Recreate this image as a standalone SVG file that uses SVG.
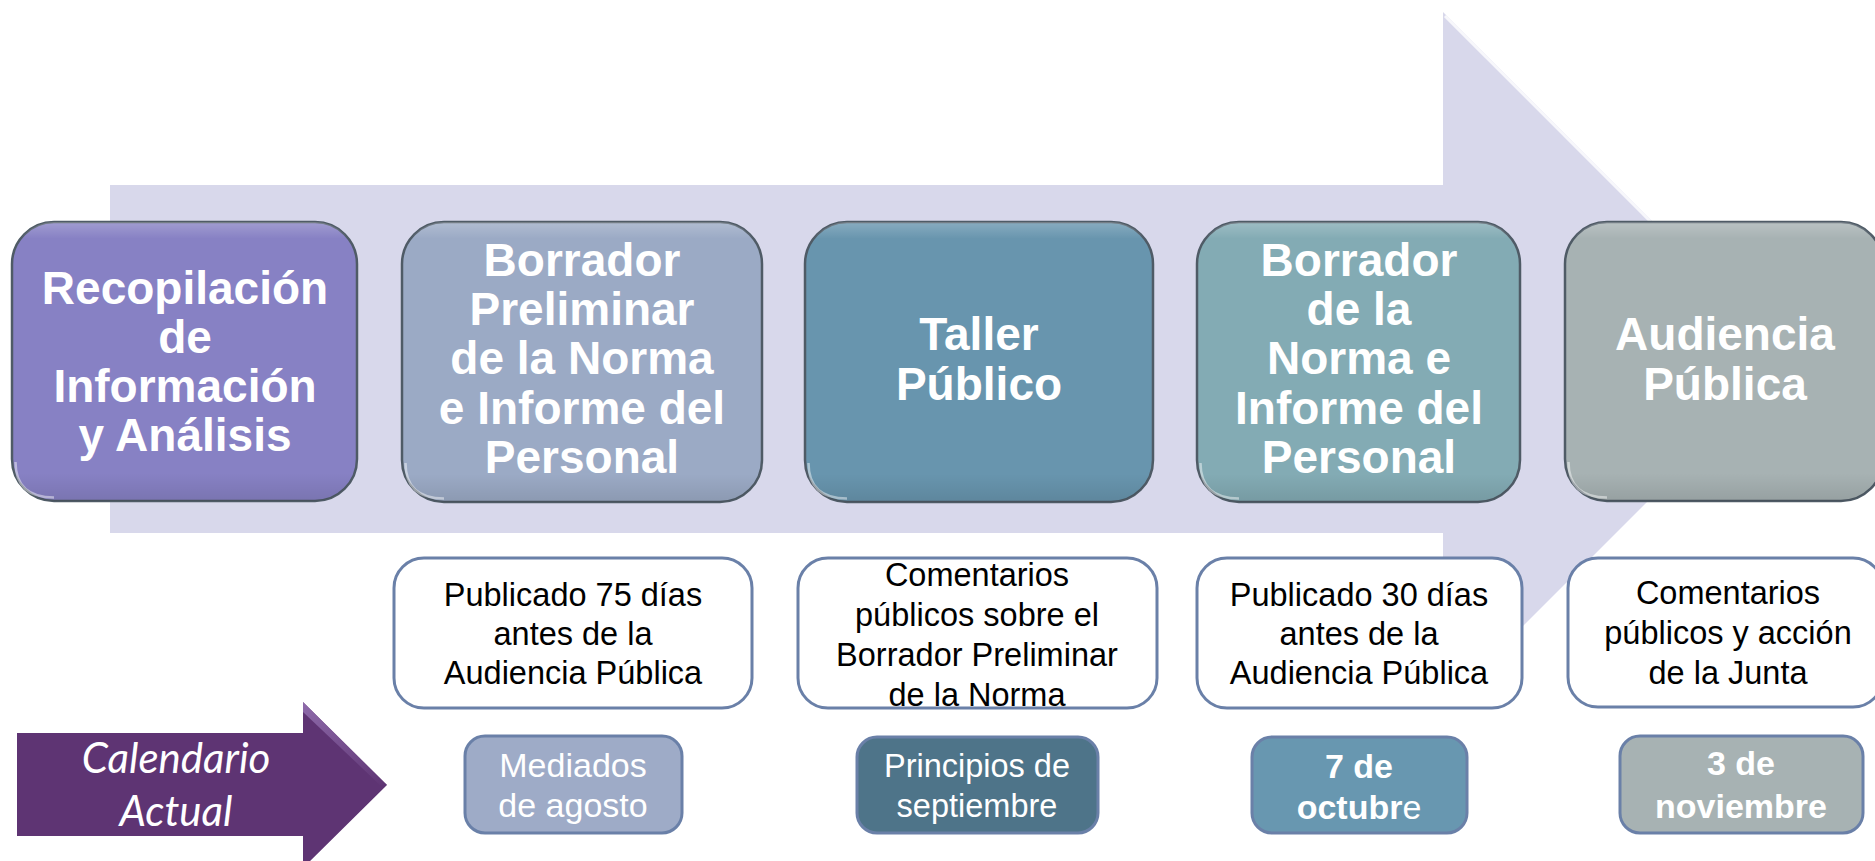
<svg xmlns="http://www.w3.org/2000/svg" width="1875" height="861" viewBox="0 0 1875 861">
<defs>
<style>
.node{stroke:#4f5b66;stroke-width:2.5}
.gloss{fill:url(#gloss);stroke:none}
.edge{fill:none;stroke:#ffffff;stroke-opacity:0.45;stroke-width:2.5}
.nt{font-family:"Liberation Sans",Arial,sans-serif;font-weight:bold;font-size:46px;fill:#ffffff;text-anchor:middle}
.box{fill:#ffffff;stroke:#6a80a8;stroke-width:3}
.bt{font-family:"Liberation Sans",Arial,sans-serif;font-size:32.5px;fill:#000000;text-anchor:middle}
.date{stroke:#6a80a8;stroke-width:3}
.dt{font-family:"Liberation Sans",Arial,sans-serif;font-size:34px;fill:#ffffff;text-anchor:middle}
.dtb{font-family:"Liberation Sans",Arial,sans-serif;font-size:34px;font-weight:bold;fill:#ffffff;text-anchor:middle}
.cal{font-family:Lato,"Open Sans",sans-serif;font-style:italic;font-size:42px;fill:#ffffff;text-anchor:middle}
</style>
<linearGradient id="gloss" x1="0" y1="0" x2="0" y2="1">
<stop offset="0" stop-color="#ffffff" stop-opacity="0.22"/>
<stop offset="0.06" stop-color="#ffffff" stop-opacity="0"/>
<stop offset="0.9" stop-color="#000000" stop-opacity="0"/>
<stop offset="1" stop-color="#000000" stop-opacity="0.1"/>
</linearGradient>
<linearGradient id="calhi" x1="0" y1="0" x2="1" y2="1">
<stop offset="0" stop-color="#9a78b8"/>
<stop offset="1" stop-color="#5e3473"/>
</linearGradient>
</defs>
<rect width="1875" height="861" fill="#ffffff"/>

<g id="backdrop-arrow">
<polygon points="110,185 1443,185 1443,12 1790,359 1443,706 1443,533 110,533" fill="#d8d8eb"/>
<line x1="1445" y1="16" x2="1700" y2="271" stroke="#ffffff" stroke-opacity="0.8" stroke-width="3"/>
</g>

<g id="connectors"></g>

<g id="node-recopilacion">
<rect class="node" x="12" y="222" width="345" height="279" rx="42" fill="#8781c4"/>
<rect class="gloss" x="12" y="222" width="345" height="279" rx="42"/>
<path class="edge" d="M15.5,462 Q15.5,497.5 54,497.5"/>
<text class="nt" x="185" y="304">Recopilación</text>
<text class="nt" x="185" y="353">de</text>
<text class="nt" x="185" y="402">Información</text>
<text class="nt" x="185" y="451">y Análisis</text>
</g>

<g id="node-borrador-preliminar">
<rect class="node" x="402" y="222" width="360" height="280" rx="42" fill="#9baac5"/>
<rect class="gloss" x="402" y="222" width="360" height="280" rx="42"/>
<path class="edge" d="M405.5,463 Q405.5,498.5 444,498.5"/>
<text class="nt" x="582" y="276">Borrador</text>
<text class="nt" x="582" y="325">Preliminar</text>
<text class="nt" x="582" y="374">de la Norma</text>
<text class="nt" x="582" y="424">e Informe del</text>
<text class="nt" x="582" y="473">Personal</text>
</g>

<g id="node-taller">
<rect class="node" x="805" y="222" width="348" height="280" rx="42" fill="#6895ae"/>
<rect class="gloss" x="805" y="222" width="348" height="280" rx="42"/>
<path class="edge" d="M808.5,463 Q808.5,498.5 847,498.5"/>
<text class="nt" x="979" y="350">Taller</text>
<text class="nt" x="979" y="400">Público</text>
</g>

<g id="node-borrador-norma">
<rect class="node" x="1197" y="222" width="323" height="280" rx="42" fill="#83abb4"/>
<rect class="gloss" x="1197" y="222" width="323" height="280" rx="42"/>
<path class="edge" d="M1200.5,463 Q1200.5,498.5 1239,498.5"/>
<text class="nt" x="1359" y="276">Borrador</text>
<text class="nt" x="1359" y="325">de la</text>
<text class="nt" x="1359" y="374">Norma e</text>
<text class="nt" x="1359" y="424">Informe del</text>
<text class="nt" x="1359" y="473">Personal</text>
</g>

<g id="node-audiencia">
<rect class="node" x="1565" y="222" width="318" height="279" rx="42" fill="#a7b2b3"/>
<rect class="gloss" x="1565" y="222" width="318" height="279" rx="42"/>
<path class="edge" d="M1568.5,462 Q1568.5,497.5 1607,497.5"/>
<text class="nt" x="1725" y="350">Audiencia</text>
<text class="nt" x="1725" y="400">Pública</text>
</g>

<g id="note-75-dias">
<rect class="box" x="394" y="558" width="358" height="150" rx="30"/>
<text class="bt" x="573" y="606">Publicado 75 días</text>
<text class="bt" x="573" y="645">antes de la</text>
<text class="bt" x="573" y="684">Audiencia Pública</text>
</g>

<g id="note-comentarios-borrador">
<rect class="box" x="798" y="558" width="359" height="150" rx="30"/>
<text class="bt" x="977" y="586">Comentarios</text>
<text class="bt" x="977" y="626">públicos sobre el</text>
<text class="bt" x="977" y="666">Borrador Preliminar</text>
<text class="bt" x="977" y="706">de la Norma</text>
</g>

<g id="note-30-dias">
<rect class="box" x="1197" y="558" width="325" height="150" rx="30"/>
<text class="bt" x="1359" y="606">Publicado 30 días</text>
<text class="bt" x="1359" y="645">antes de la</text>
<text class="bt" x="1359" y="684">Audiencia Pública</text>
</g>

<g id="note-comentarios-junta">
<rect class="box" x="1568" y="558" width="315" height="149" rx="30"/>
<text class="bt" x="1728" y="604">Comentarios</text>
<text class="bt" x="1728" y="644">públicos y acción</text>
<text class="bt" x="1728" y="684">de la Junta</text>
</g>

<g id="calendario-actual">
<polygon points="17,733 303,733 303,702 387,785 303,868 303,836 17,836" fill="#5e3473"/>
<polygon points="303,702 387,785 380,785 303,712" fill="url(#calhi)" opacity="0.8"/>
<text class="cal" x="176" y="773">Calendario</text>
<text class="cal" x="176" y="826">Actual</text>
</g>

<g id="date-agosto">
<rect class="date" x="465" y="736" width="217" height="97" rx="20" fill="#9eabc7"/>
<text class="dt" x="573" y="777">Mediados</text>
<text class="dt" x="573" y="817">de agosto</text>
</g>

<g id="date-septiembre">
<rect class="date" x="857" y="737" width="241" height="96" rx="20" fill="#4e7489"/>
<text class="dt" x="977" y="777" style="font-size:32.5px">Principios de</text>
<text class="dt" x="977" y="817" style="font-size:32.5px">septiembre</text>
</g>

<g id="date-octubre">
<rect class="date" x="1252" y="737" width="215" height="96" rx="20" fill="#6897b0"/>
<text class="dtb" x="1359" y="778">7 de</text>
<text class="dtb" x="1359" y="819">octubr<tspan font-weight="normal">e</tspan></text>
</g>

<g id="date-noviembre">
<rect class="date" x="1620" y="736" width="243" height="97" rx="20" fill="#a7b2b3"/>
<text class="dtb" x="1741" y="775">3 de</text>
<text class="dtb" x="1741" y="818">noviembre</text>
</g>
</svg>
